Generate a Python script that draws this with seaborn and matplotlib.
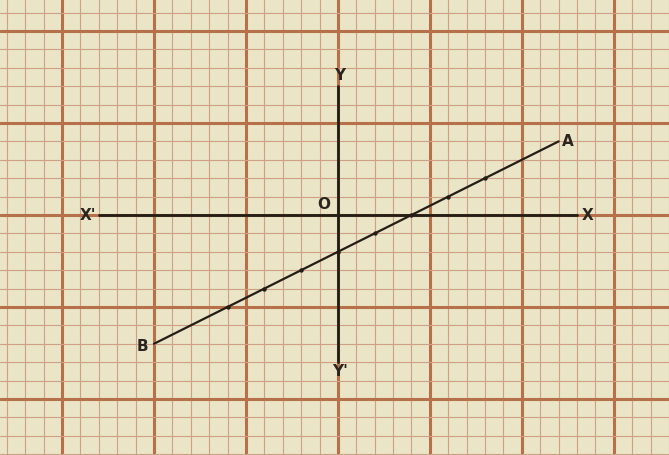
import numpy as np
import pandas as pd
import seaborn as sns
from matplotlib import pyplot as plt

# line y = x/2 - 2, drawn from B to A
line_x = [-10, 12]
line_y = [-7, 4]
# small points marked along the line
dot_x = [-6, -4, -2, 0, 2, 4, 6, 8]
dot_y = [-5, -4, -3, -2, -1, 0, 1, 2]
# extent of the drawn axes
xaxis_range = [-13, 13]
yaxis_range = [-8, 7]
labels = {'A': (12.5, 4.0), 'B': (-10.6, -7.15), 'X': (13.6, 0), "X'": (-13.6, 0),
          'Y': (0.1, 7.6), "Y'": (0.1, -8.5), 'O': (-0.75, 0.55)}

sns.set_style('white')
plt.rcParams['font.family'] = ['DejaVu Sans']

paper = '#e9e5c6'
fig = plt.figure(figsize=(6.69, 4.55), dpi=100, facecolor=paper)
ax = fig.add_axes([0, 0, 1, 1])
ax.set_facecolor(paper)

ax.set_xlim(-338 / 18.4, (669 - 338) / 18.4)
ax.set_ylim(-(455 - 215) / 18.4, 215 / 18.4)

# graph paper grid
ax.set_xticks(np.arange(-15, 16, 5))
ax.set_yticks(np.arange(-10, 11, 5))
ax.set_xticks(np.arange(-18, 19, 1), minor=True)
ax.set_yticks(np.arange(-13, 12, 1), minor=True)
ax.grid(which='minor', color='#cf9f86', linewidth=0.8)
ax.grid(which='major', color='#b7714a', linewidth=2.2)
ax.tick_params(which='both', length=0, labelbottom=False, labelleft=False)
for s in ax.spines.values():
    s.set_visible(False)

ink = '#231d16'
xax_df = pd.DataFrame({'x': xaxis_range, 'y': [0, 0]})
sns.lineplot(data=xax_df, x='x', y='y', color=ink, linewidth=2.0,
             estimator=None, ax=ax)
yax_df = pd.DataFrame({'x': [0, 0], 'y': yaxis_range})
sns.lineplot(data=yax_df, x='x', y='y', color=ink, linewidth=2.0,
             estimator=None, sort=False, ax=ax)

line_df = pd.DataFrame({'x': line_x, 'y': line_y})
sns.lineplot(data=line_df, x='x', y='y', color=ink, linewidth=1.6,
             estimator=None, ax=ax)
dots_df = pd.DataFrame({'x': dot_x, 'y': dot_y})
sns.scatterplot(data=dots_df, x='x', y='y', color=ink, s=10, linewidth=0, ax=ax)

for txt, (tx, ty) in labels.items():
    ax.text(tx, ty, txt, fontsize=11, color='#2b2520', ha='center', va='center',
            fontweight='bold')

ax.set_xlabel('')
ax.set_ylabel('')
fig.savefig('out.png', dpi=100, facecolor=paper)
